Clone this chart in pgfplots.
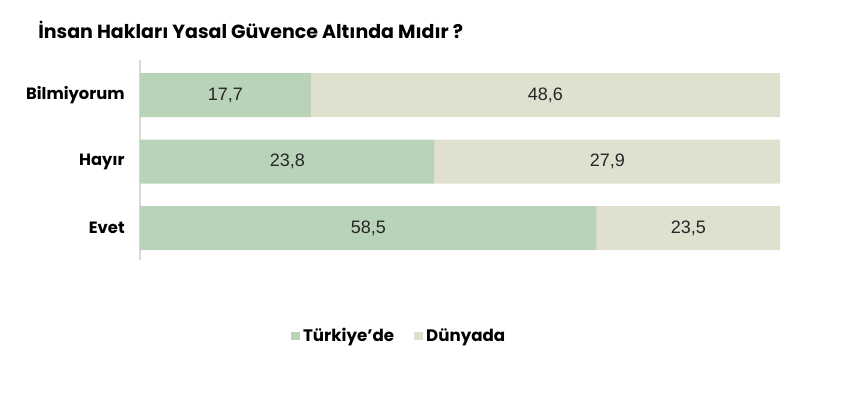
\documentclass[border=0pt]{standalone}
\usepackage{fontspec}
\setmainfont{Poppins}
\newfontfamily\numfont{Liberation Sans}
\usepackage{pgfplots}
\usepackage{pgfplotstable}
\pgfplotsset{compat=1.18}
\definecolor{trgreen}{HTML}{B9D3B8}
\definecolor{wbeige}{HTML}{E0E0CF}
\definecolor{axgray}{HTML}{D9D9D9}
% pos: 0 Evet, 1 Hayir, 2 Bilmiyorum ; pct = share of bar (value / row total * 100)
\pgfplotstableread{
pos pct lab
0 71.34 58,5
1 46.03 23,8
2 26.70 17,7
}\turkiye
\pgfplotstableread{
pos pct lab
0 28.66 23,5
1 53.97 27,9
2 73.30 48,6
}\dunya
\begin{document}
\begin{tikzpicture}
\path[use as bounding box] (0,0) rectangle (505.8pt,235.8pt);
\node[anchor=west,font=\bfseries\fontsize{11.4}{14}\selectfont,inner sep=0pt] at (22.8pt,217.8pt) {İnsan Hakları Yasal Güvence Altında Mıdır ?};
\begin{axis}[
  at={(84pt,79.8pt)}, anchor=south west,
  scale only axis, width=384pt, height=120pt,
  xbar stacked, bar width=26.4pt,
  xmin=0, xmax=100, ymin=-0.48, ymax=2.53,
  axis y line*=left, axis x line=none,
  y axis line style={draw=axgray, line width=0.8pt, -},
  ytick={0,1,2}, yticklabels={Evet,Hayır,Bilmiyorum},
  major tick length=0pt,
  yticklabel style={font=\bfseries\fontsize{9.8}{11}\selectfont, inner sep=0pt, xshift=-9pt},
  point meta=explicit symbolic,
  nodes near coords,
  every node near coord/.append style={font=\numfont\fontsize{10.8}{12}\selectfont, text=black!85, anchor=center},
  legend style={at={(0.406,-0.38)}, anchor=center, draw=none, legend columns=2,
    font=\bfseries\fontsize{10}{12}\selectfont,
    /tikz/every even column/.append style={column sep=10pt}},
  legend image code/.code={\fill (0pt,-2.6pt) rectangle (5.2pt,2.6pt);},
]
\addplot[fill=trgreen, draw=none] table[x=pct, y=pos, meta=lab] {\turkiye};
\addplot[fill=wbeige, draw=none] table[x=pct, y=pos, meta=lab] {\dunya};
\legend{Türkiye’de, Dünyada}
\end{axis}
\end{tikzpicture}
\end{document}
